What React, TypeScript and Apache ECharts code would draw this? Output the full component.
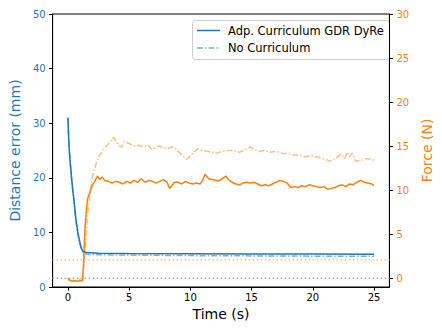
import React, { useEffect, useRef } from "react";
import * as echarts from "echarts";

// Distance error (mm) over time (s)
const distAdp: [number, number][] = [
  [0, 31], [0.05, 28], [0.1, 25.5], [0.2, 22.5], [0.34, 19], [0.5, 15.8], [0.63, 12.8],
  [0.82, 9.8], [1.0, 7.9], [1.13, 6.9], [1.25, 6.5], [1.5, 6.3], [2.5, 6.2], [5, 6.15],
  [10, 6.1], [15, 6.05], [20, 6.05], [25, 6.0],
];
const distNoCur: [number, number][] = [
  [0, 31], [0.05, 27.6], [0.1, 25.2], [0.2, 22.2], [0.34, 18.6], [0.5, 15.3], [0.63, 12.5],
  [0.82, 9.5], [1.0, 7.7], [1.13, 6.8], [1.25, 6.3], [1.5, 6.0], [2.5, 5.9], [5, 5.85],
  [10, 5.75], [15, 5.7], [20, 5.65], [25, 5.65],
];
// Force (N) over time (s)
const forceAdp: [number, number][] = [
  [0, 0], [0.2, -0.3], [0.4, -0.35], [0.6, -0.3], [0.8, -0.35], [1.0, -0.3], [1.2, -0.3],
  [1.3, 2.5], [1.4, 5.8], [1.5, 7.5], [1.6, 9.0], [1.8, 9.8], [2.0, 10.6], [2.2, 11.0],
  [2.4, 11.6], [2.6, 11.2], [2.8, 11.5], [3.0, 11.1], [3.3, 11.0], [3.6, 10.8], [3.9, 11.0],
  [4.2, 10.9], [4.5, 10.7], [4.8, 11.0], [5.1, 10.8], [5.4, 11.1], [5.7, 10.9], [6.0, 11.3],
  [6.3, 10.9], [6.6, 11.1], [6.9, 11.0], [7.2, 10.8], [7.5, 11.0], [7.8, 11.2], [8.1, 10.9],
  [8.3, 10.2], [8.5, 10.5], [8.7, 10.9], [9.0, 10.9], [9.3, 10.7], [9.6, 11.0], [9.9, 10.8],
  [10.2, 10.7], [10.5, 10.8], [10.8, 10.7], [11.0, 11.1], [11.2, 11.8], [11.5, 11.3],
  [11.8, 11.2], [12.1, 11.1], [12.4, 11.1], [12.7, 11.4], [12.9, 11.6], [13.1, 11.2],
  [13.4, 10.9], [13.7, 10.7], [14.0, 10.6], [14.3, 10.8], [14.6, 10.9], [14.9, 10.8],
  [15.2, 10.9], [15.5, 10.7], [15.8, 10.5], [16.1, 10.6], [16.4, 10.5], [16.7, 10.7],
  [17.0, 10.9], [17.3, 11.1], [17.6, 11.0], [17.9, 10.8], [18.2, 10.3], [18.5, 10.4],
  [18.8, 10.3], [19.1, 10.5], [19.4, 10.4], [19.7, 10.6], [20.0, 10.5], [20.3, 10.4],
  [20.6, 10.3], [20.9, 10.4], [21.2, 10.1], [21.5, 10.2], [21.8, 10.3], [22.1, 10.5],
  [22.4, 10.6], [22.7, 10.4], [23.0, 10.7], [23.3, 10.6], [23.6, 10.9], [23.9, 11.1],
  [24.2, 10.9], [24.5, 10.8], [24.8, 10.7], [25.0, 10.5],
];
const forceNoCur: [number, number][] = [
  [0, -0.2], [0.6, -0.3], [1.2, 0], [1.4, 3], [1.6, 7], [1.8, 9.5], [2.0, 11.5], [2.3, 13],
  [2.6, 14], [3.0, 14.8], [3.2, 15.1], [3.5, 15.6], [3.7, 16.0], [4.0, 15.4], [4.2, 15.0],
  [4.4, 14.9], [4.6, 15.5], [5.0, 15.3], [5.4, 15.0], [5.8, 15.1], [6.2, 14.9], [6.5, 15.1],
  [6.9, 14.6], [7.3, 15.0], [7.7, 14.9], [8.1, 14.7], [8.5, 14.9], [8.8, 14.7], [9.0, 14.4],
  [9.3, 14.0], [9.7, 13.5], [10.0, 13.9], [10.3, 14.3], [10.6, 14.7], [11.0, 14.5],
  [11.4, 14.4], [11.8, 14.3], [12.2, 14.2], [12.6, 14.4], [13.1, 14.5], [13.5, 14.5],
  [14.0, 14.3], [14.5, 14.6], [14.9, 14.9], [15.2, 14.6], [15.6, 14.4], [16.0, 14.5],
  [16.5, 14.3], [17.0, 14.4], [17.5, 14.2], [18.0, 14.1], [18.5, 14.0], [19.0, 13.9],
  [19.3, 13.8], [19.8, 13.9], [20.3, 13.8], [20.8, 13.6], [21.2, 13.4], [21.5, 13.3],
  [21.9, 13.6], [22.3, 14.1], [22.6, 13.6], [22.8, 14.3], [23.0, 13.8], [23.2, 14.2],
  [23.5, 13.3], [24.0, 13.4], [24.4, 13.6], [24.8, 13.5], [25.0, 13.4],
];
const distThreshold = 5; // mm, dotted orange
const forceZero = 0; // N, dotted gray
const xTicks = [0, 5, 10, 15, 20, 25];
const forceTicks = [0, 5, 10, 15, 20, 25, 30];
const legendNames = ["Adp. Curriculum GDR DyRe", "No Curriculum"];

const BLUE = "#1f77b4";
const LIGHT_BLUE = "#74b3e3";
const ORANGE = "#ff7f0e";
const LIGHT_ORANGE = "#ffbf86";
const FONT = "DejaVu Sans";
const DASH_DOT = [6, 2, 1.5, 2];

export default function App() {
  const ref = useRef<HTMLDivElement>(null);
  useEffect(() => {
    if (!ref.current) return;
    const chart = echarts.init(ref.current, null, { renderer: "svg" });
    const xMin = -1.25;
    const xMax = 26.25;
    chart.setOption({
      animation: false,
      textStyle: { fontFamily: FONT },
      grid: { left: 47, right: 47, top: 14, bottom: 44, show: true, borderColor: "#000", borderWidth: 1 },
      graphic: [
        {
          type: "group",
          left: 192,
          top: 20,
          z: 100,
          children: [
            {
              type: "rect",
              shape: { x: 0.5, y: 0.5, width: 197, height: 39, r: 3 },
              style: { fill: "rgba(255,255,255,0.8)", stroke: "#cccccc", lineWidth: 1 },
            },
            {
              type: "line",
              shape: { x1: 5, y1: 10.5, x2: 28, y2: 10.5 },
              style: { stroke: BLUE, lineWidth: 1.5 },
            },
            {
              type: "text",
              x: 36,
              y: 10.5,
              style: { text: legendNames[0], fill: "#000", font: `11.5px ${FONT}`, verticalAlign: "middle" },
            },
            {
              type: "line",
              shape: { x1: 5, y1: 28, x2: 28, y2: 28 },
              style: { stroke: LIGHT_BLUE, lineWidth: 1.5, lineDash: DASH_DOT },
            },
            {
              type: "text",
              x: 36,
              y: 28,
              style: { text: legendNames[1], fill: "#000", font: `11.5px ${FONT}`, verticalAlign: "middle" },
            },
          ],
        },
      ],
      xAxis: {
        type: "value",
        min: xMin,
        max: xMax,
        name: "Time (s)",
        nameLocation: "middle",
        nameGap: 17,
        nameTextStyle: { fontFamily: FONT, fontSize: 14, color: "#000" },
        axisLine: { show: true, onZero: false, lineStyle: { color: "#000" } },
        axisTick: { show: true, length: 3.5, customValues: xTicks, lineStyle: { color: "#000" } },
        axisLabel: { customValues: xTicks, fontFamily: FONT, fontSize: 10, color: "#000", margin: 5 },
        splitLine: { show: false },
      },
      yAxis: [
        {
          type: "value",
          min: 0,
          max: 50,
          interval: 10,
          position: "left",
          name: "Distance error (mm)",
          nameLocation: "middle",
          nameRotate: 90,
          nameGap: 23,
          nameTextStyle: { fontFamily: FONT, fontSize: 14, color: BLUE },
          axisLine: { show: true, onZero: false, lineStyle: { color: "#000" } },
          axisTick: { show: true, length: 3.5, lineStyle: { color: "#000" } },
          axisLabel: { fontFamily: FONT, fontSize: 10, color: BLUE, margin: 7 },
          splitLine: { show: false },
        },
        {
          type: "value",
          min: -1,
          max: 30,
          position: "right",
          name: "Force (N)",
          nameLocation: "middle",
          nameRotate: 90,
          nameGap: 23,
          nameTextStyle: { fontFamily: FONT, fontSize: 14, color: ORANGE },
          axisLine: { show: true, onZero: false, lineStyle: { color: "#000" } },
          axisTick: { show: true, length: 3.5, customValues: forceTicks, lineStyle: { color: "#000" } },
          axisLabel: { customValues: forceTicks, fontFamily: FONT, fontSize: 10, color: ORANGE, margin: 7 },
          splitLine: { show: false },
        },
      ],
      series: [
        {
          name: "Distance threshold",
          type: "line",
          yAxisIndex: 0,
          data: [[xMin, distThreshold], [xMax, distThreshold]],
          symbol: "none",
          lineStyle: { color: LIGHT_ORANGE, width: 1.5, type: [1.5, 2.5] },
          silent: true,
        },
        {
          name: "Force zero",
          type: "line",
          yAxisIndex: 1,
          data: [[xMin, forceZero], [xMax, forceZero]],
          symbol: "none",
          lineStyle: { color: "#aaaaaa", width: 1.5, type: [1.5, 2.5] },
          silent: true,
        },
        {
          name: "No Curriculum (force)",
          type: "line",
          yAxisIndex: 1,
          data: forceNoCur,
          symbol: "none",
          color: LIGHT_ORANGE,
          lineStyle: { color: LIGHT_ORANGE, width: 1.5, type: DASH_DOT },
        },
        {
          name: "Adp. Curriculum GDR DyRe (force)",
          type: "line",
          yAxisIndex: 1,
          data: forceAdp,
          symbol: "none",
          color: ORANGE,
          lineStyle: { color: ORANGE, width: 1.5 },
        },
        {
          name: legendNames[1],
          type: "line",
          yAxisIndex: 0,
          data: distNoCur,
          symbol: "none",
          color: LIGHT_BLUE,
          lineStyle: { color: LIGHT_BLUE, width: 1.5, type: DASH_DOT },
        },
        {
          name: legendNames[0],
          type: "line",
          yAxisIndex: 0,
          data: distAdp,
          symbol: "none",
          color: BLUE,
          lineStyle: { color: BLUE, width: 1.5 },
        },
      ],
    });
    return () => chart.dispose();
  }, []);
  return (
    <div
      ref={ref}
      style={{ position: "fixed", left: 0, top: 0, width: 442, height: 331, background: "#fff" }}
    />
  );
}
